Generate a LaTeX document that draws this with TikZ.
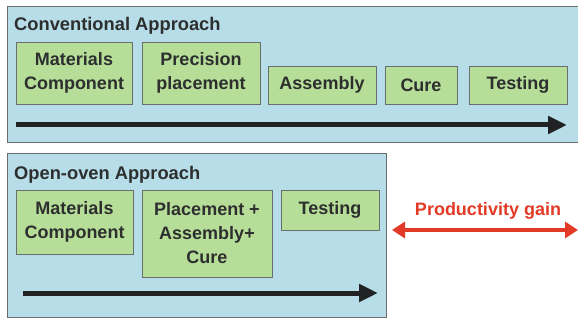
\documentclass[tikz,border=0pt]{standalone}
\usepackage{fontspec}
\setmainfont{Liberation Sans}
\usetikzlibrary{arrows.meta}
\definecolor{panelblue}{RGB}{183,221,233}
\definecolor{stepgreen}{RGB}{182,222,152}
\definecolor{edgegray}{RGB}{105,110,110}
\definecolor{inkgray}{RGB}{45,47,47}
\definecolor{flowink}{RGB}{32,34,36}
\definecolor{gainred}{RGB}{226,58,38}
\tikzset{
  panel/.style={fill=panelblue, draw=edgegray, line width=1pt},
  stepbox/.style={draw=edgegray, fill=stepgreen, line width=0.8pt,
    inner sep=0pt, align=center, text=inkgray,
    font=\fontsize{18}{24}\selectfont\bfseries},
  paneltitle/.style={anchor=base west, inner sep=0pt, text=inkgray,
    font=\fontsize{18.3}{22}\selectfont\bfseries},
  flow/.style={line width=5pt, draw=flowink,
    -{Triangle[length=19pt,width=17pt]}},
  gain/.style={line width=4pt, draw=gainred,
    {Triangle[length=13pt,width=16pt]}-{Triangle[length=13pt,width=16pt]}}
}
\begin{document}
\begin{tikzpicture}[x=1pt,y=-1pt]
  \useasboundingbox (0,0) rectangle (578,320);
  \clip (0,0) rectangle (578,320);

  % conventional line
  \draw[panel] (7,7) rectangle (590,143);
  \node[paneltitle] (t1) at (14,31) {Conventional Approach};
  \node[stepbox, minimum width=116pt, minimum height=62pt] (m1) at (74,73) {Materials\\Component};
  \node[stepbox, minimum width=118pt, minimum height=62pt] (p1) at (201,73) {Precision\\placement};
  \node[stepbox, minimum width=108pt, minimum height=38pt] (a1) at (322,85) {Assembly};
  \node[stepbox, minimum width=72pt, minimum height=38pt] (c1) at (421,85) {Cure};
  \node[stepbox, minimum width=98pt, minimum height=38pt] (s1) at (518,85) {Testing};
  \coordinate (f1a) at (16,125);
  \coordinate (f1b) at (567,125);
  \draw[flow] (f1a) -- (f1b);

  % open-oven line
  \draw[panel] (7,154) rectangle (386,317);
  \node[paneltitle] (t2) at (14,180) {Open-oven Approach};
  \node[stepbox, minimum width=117pt, minimum height=64pt] (m2) at (74.5,222) {Materials\\Component};
  \node[stepbox, minimum width=130pt, minimum height=87pt] (p2) at (207,233.5) {Placement +\\Assembly+\\Cure};
  \node[stepbox, minimum width=98pt, minimum height=40pt] (s2) at (330,210) {Testing};
  \coordinate (f2a) at (23,293);
  \coordinate (f2b) at (378,293);
  \draw[flow] (f2a) -- (f2b);

  % time saved
  \node[anchor=base, inner sep=0pt, text=gainred,
    font=\fontsize{18}{22}\selectfont\bfseries] (g) at (488,216) {Productivity gain};
  \coordinate (ga) at (392,230);
  \coordinate (gb) at (578,230);
  \draw[gain] (ga) -- (gb);
\end{tikzpicture}
\end{document}
